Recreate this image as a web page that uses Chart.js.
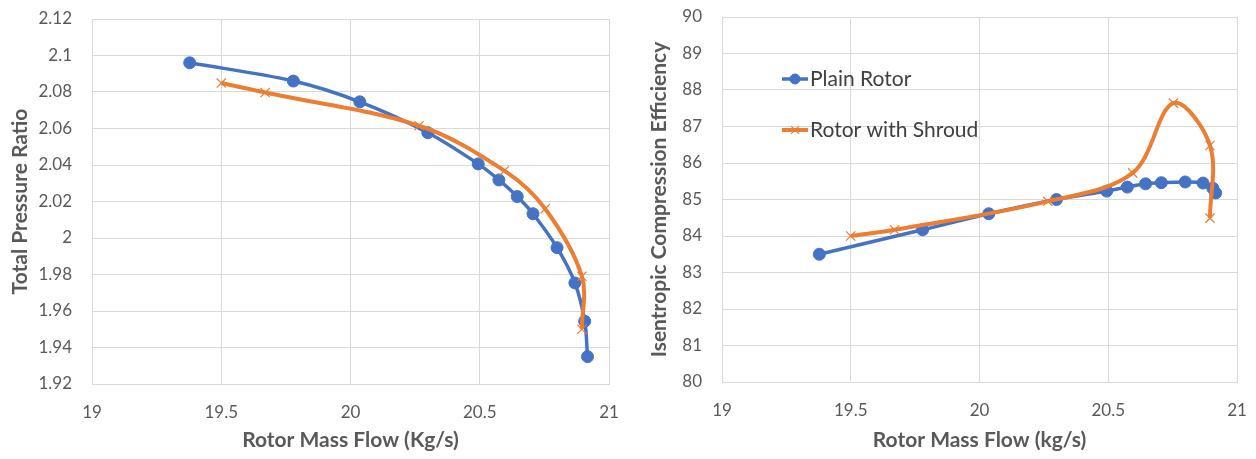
<!DOCTYPE html>
<html>
<head>
<meta charset="utf-8">
<script src="https://cdn.jsdelivr.net/npm/chart.js@4/dist/chart.umd.min.js"></script>
<style>
  body { margin: 0; background: #fff; }
  .box { position: absolute; top: 0; width: 628px; height: 459px; }
  #left { left: 0; }
  #right { left: 628px; }
</style>
</head>
<body>
<div class="box" id="left"><canvas id="pressure-chart" width="628" height="459"></canvas></div>
<div class="box" id="right"><canvas id="efficiency-chart" width="628" height="459"></canvas></div>
<script>
  // rotor mass flow (kg/s)
  var flowPlain   = [19.378, 19.779, 20.036, 20.299, 20.494, 20.574, 20.645, 20.706, 20.799, 20.868, 20.906, 20.917];
  var flowShroud  = [19.50, 19.67, 20.265, 20.595, 20.753, 20.895, 20.895];

  // total pressure ratio
  var prPlain  = [2.096, 2.086, 2.0746, 2.0577, 2.0406, 2.0318, 2.0227, 2.0133, 1.9947, 1.9754, 1.9544, 1.935];
  var prShroud = [2.0849, 2.0797, 2.0615, 2.0369, 2.016, 1.979, 1.950];

  // isentropic compression efficiency (%)
  var effPlain  = [83.50, 84.17, 84.61, 85.00, 85.23, 85.34, 85.43, 85.46, 85.48, 85.45, 85.31, 85.18];
  var effShroud = [84.0, 84.17, 84.95, 85.73, 87.64, 86.48, 84.49];

  var seriesNames = ['Plain Rotor', 'Rotor with Shroud'];
  var xTicks = { min: 19, max: 21, step: 0.5 };

  var blue = '#4472C4';
  var orange = '#ED7D31';
  var grey = '#595959';
  var gridGrey = '#D9D9D9';
  var font = 'Lato';

  function pts(xs, ys) {
    return xs.map(function (x, i) { return { x: x, y: ys[i] }; });
  }

  function datasets(yPlain, yShroud) {
    return [{
      label: seriesNames[0],
      data: pts(flowPlain, yPlain),
      borderColor: blue,
      backgroundColor: blue,
      borderWidth: 3.5,
      pointStyle: 'circle',
      pointRadius: 6,
      pointBorderWidth: 1,
      tension: 0.35,
      order: 2
    }, {
      label: seriesNames[1],
      data: pts(flowShroud, yShroud),
      borderColor: orange,
      backgroundColor: orange,
      borderWidth: 4,
      pointStyle: 'crossRot',
      pointRadius: 6.5,
      pointBorderWidth: 1.2,
      tension: 0.35,
      order: 1
    }];
  }

  function fmt(v) { return String(parseFloat(Number(v).toFixed(2))); }

  // legend drawn inside the plot area (right chart only)
  var insideLegend = {
    id: 'insideLegend',
    afterDatasetsDraw: function (chart, args, opts) {
      if (!opts.show) return;
      var ctx = chart.ctx;
      var a = chart.chartArea;
      var x0 = a.left + 60, y0 = a.top + 62, gap = 51;
      chart.data.datasets.forEach(function (ds, i) {
        var y = y0 + i * gap;
        ctx.save();
        ctx.strokeStyle = ds.borderColor;
        ctx.fillStyle = ds.backgroundColor;
        ctx.lineWidth = ds.borderWidth;
        ctx.beginPath();
        ctx.moveTo(x0, y);
        ctx.lineTo(x0 + 26, y);
        ctx.stroke();
        ctx.lineWidth = ds.pointBorderWidth;
        Chart.helpers.drawPoint(ctx, {
          pointStyle: ds.pointStyle, radius: ds.pointRadius - 1,
          borderWidth: ds.pointBorderWidth, rotation: 0
        }, x0 + 13, y);
        ctx.fillStyle = '#404040';
        ctx.font = '21px ' + font;
        ctx.textBaseline = 'middle';
        ctx.fillText(ds.label, x0 + 28, y);
        ctx.restore();
      });
    }
  };

  function config(yPlain, yShroud, yMin, yMax, yStep, yTitle, xTitle, leftW, topPad, xAxisH, titlePad, showLegend) {
    return {
      type: 'line',
      data: { datasets: datasets(yPlain, yShroud) },
      plugins: [insideLegend],
      options: {
        responsive: false,
        animation: false,
        layout: { autoPadding: false, padding: { left: 0, right: 19, top: topPad, bottom: 0 } },
        plugins: {
          legend: { display: false },
          tooltip: { enabled: false },
          insideLegend: { show: showLegend }
        },
        scales: {
          x: {
            type: 'linear',
            min: xTicks.min, max: xTicks.max,
            ticks: { stepSize: xTicks.step, color: grey, font: { family: font, size: 17 }, padding: 18, callback: fmt },
            grid: { color: gridGrey, drawTicks: false },
            border: { color: gridGrey },
            title: { display: true, text: xTitle, color: grey, font: { family: font, size: 21, weight: 'bold' }, padding: { top: 0, bottom: 6 } },
            afterFit: function (s) { s.height = xAxisH; s.paddingLeft = 0; s.paddingRight = 0; }
          },
          y: {
            min: yMin, max: yMax,
            ticks: { stepSize: yStep, color: grey, font: { family: font, size: 17 }, padding: 20, callback: fmt },
            grid: { color: gridGrey, drawTicks: false },
            border: { color: gridGrey },
            title: { display: true, text: yTitle, color: grey, font: { family: font, size: 21, weight: 'bold' }, padding: { top: titlePad, bottom: 0 } },
            afterFit: function (s) { s.width = leftW; s.paddingTop = 0; s.paddingBottom = 0; }
          }
        }
      }
    };
  }

  window.onload = function () {
    var p = document.getElementById('pressure-chart').getContext('2d');
    var e = document.getElementById('efficiency-chart').getContext('2d');
    window.pressureChart = new Chart(p, config(prPlain, prShroud, 1.92, 2.12, 0.02,
      'Total Pressure Ratio', 'Rotor Mass Flow (Kg/s)', 92, 19, 75, 8, false));
    window.efficiencyChart = new Chart(e, config(effPlain, effShroud, 80, 90, 1,
      'Isentropic Compression Efficiency', 'Rotor Mass Flow (kg/s)', 94, 17, 77, 19, true));
  };
</script>
</body>
</html>
